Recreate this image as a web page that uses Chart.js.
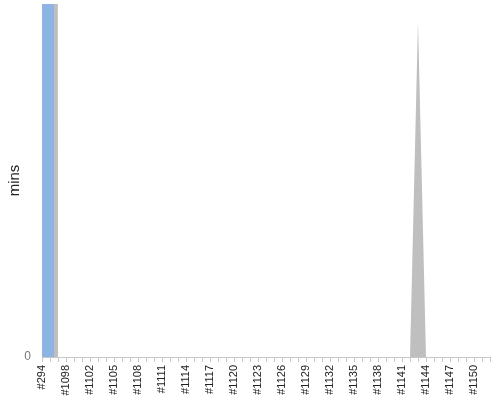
<!DOCTYPE html>
<html>
<head>
<meta charset="utf-8">
<script src="https://cdn.jsdelivr.net/npm/chart.js@4/dist/chart.umd.min.js"></script>
<style>
  html, body { margin: 0; padding: 0; background: #fff; }
  #wrap { width: 500px; height: 400px; }
</style>
</head>
<body>
<div id="wrap"><canvas id="chart"></canvas></div>
<script>
// build / run ids on the x axis
const RUNS = ['#294','#1096','#1097','#1098','#1099','#1101','#1102','#1103','#1104','#1105',
  '#1106','#1107','#1108','#1109','#1110','#1111','#1112','#1113','#1114','#1115',
  '#1116','#1117','#1118','#1119','#1120','#1121','#1122','#1123','#1124','#1125',
  '#1126','#1127','#1128','#1129','#1130','#1131','#1132','#1133','#1134','#1135',
  '#1136','#1137','#1138','#1139','#1140','#1141','#1142','#1143','#1144','#1145',
  '#1146','#1147','#1148','#1149','#1150','#1151','#1152'];

// minutes per run (first runs go way off the top of the axis)
const BLUE_MINS = [5000,5000,0,0,0,0,0,0,0,0, 0,0,0,0,0,0,0,0,0,0,
  0,0,0,0,0,0,0,0,0,0, 0,0,0,0,0,0,0,0,0,0,
  0,0,0,0,0,0,0,0,0,0, 0,0,0,0,0,0,0];
const GRAY_MINS = [5000,5000,0,0,0,0,0,0,0,0, 0,0,0,0,0,0,0,0,0,0,
  0,0,0,0,0,0,0,0,0,0, 0,0,0,0,0,0,0,0,0,0,
  0,0,0,0,0,0,0,95,0,0, 0,0,0,0,0,0,0];

const Y_MAX = 100;
const FONT = '"Liberation Sans", Arial, sans-serif';

const ctx = document.getElementById('chart').getContext('2d');
new Chart(ctx, {
  type: 'line',
  data: {
    labels: RUNS,
    datasets: [
      { label: 'blue', data: BLUE_MINS, fill: 'origin', stepped: 'middle',
        backgroundColor: 'rgb(142,180,227)', borderWidth: 0, pointRadius: 0 },
      { label: 'gray', data: GRAY_MINS, fill: 'origin',
        backgroundColor: 'rgb(191,191,191)', borderWidth: 0, pointRadius: 0 }
    ]
  },
  options: {
    responsive: true, maintainAspectRatio: false, animation: false,
    layout: { padding: { top: 4, right: 10, left: 0, bottom: 0 } },
    plugins: { legend: { display: false }, tooltip: { enabled: false } },
    scales: {
      x: {
        grid: { drawOnChartArea: false, tickLength: 5, color: '#c8c8c8' },
        border: { color: '#c8c8c8' },
        ticks: {
          autoSkip: false, minRotation: 90, maxRotation: 90, padding: 3,
          color: '#222', font: { family: FONT, size: 11 },
          callback: (v, i) => i % 3 === 0 ? RUNS[i] : ''
        },
        afterFit: s => { s.height = 43; s.paddingRight = 0; s.paddingLeft = 0; }
      },
      y: {
        min: 0, max: Y_MAX,
        grid: { drawOnChartArea: false, drawTicks: false },
        border: { color: '#c8c8c8' },
        ticks: { padding: 11, color: '#777', font: { family: FONT, size: 12 } },
        afterBuildTicks: s => { s.ticks = s.ticks.filter(t => t.value === 0); },
        title: { display: true, text: 'mins', color: '#222', font: { family: FONT, size: 15 },
          padding: { top: 6, bottom: 0 } },
        afterFit: s => { s.width = 42; s.paddingTop = 0; s.paddingBottom = 0; }
      }
    }
  }
});
</script>
</body>
</html>
